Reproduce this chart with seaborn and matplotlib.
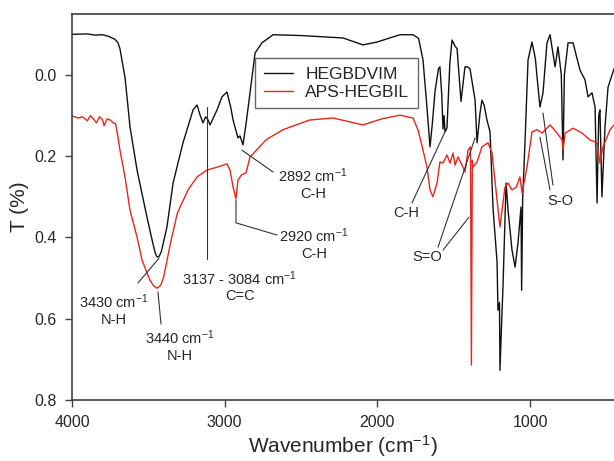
import pandas as pd
import matplotlib
matplotlib.use('Agg')
import matplotlib.pyplot as plt
import seaborn as sns

# --- Data ---
hegbdvim_wn = [4000, 3900, 3850, 3800, 3760, 3720, 3700, 3686, 3670, 3653, 3620, 3574, 3509, 3470,
               3455, 3443, 3430, 3415, 3378, 3338, 3273, 3207, 3181, 3160, 3142, 3125, 3110, 3096,
               3050, 3018, 2985, 2960, 2945, 2913, 2900, 2880, 2860, 2834, 2801, 2756, 2683, 2500,
               2225, 2094, 2002, 1852, 1767, 1730, 1701, 1675, 1655, 1640, 1622, 1600, 1590, 1578,
               1570, 1563, 1557, 1544, 1525, 1511, 1490, 1478, 1452, 1426, 1410, 1393, 1360, 1347,
               1328, 1315, 1300, 1282, 1262, 1242, 1216, 1210, 1200, 1197, 1185, 1177, 1157, 1144,
               1118, 1098, 1079, 1059, 1055, 1048, 1033, 1013, 987, 965, 954, 935, 915, 889, 869,
               836, 817, 795, 784, 775, 751, 718, 673, 640, 620, 594, 574, 561, 550, 542, 529, 509,
               489, 450]
hegbdvim_t = [-0.100, -0.101, -0.098, -0.099, -0.095, -0.088, -0.080, -0.065, -0.030, 0.005, 0.128,
              0.234, 0.350, 0.415, 0.438, 0.448, 0.447, 0.435, 0.374, 0.266, 0.167, 0.086, 0.074,
              0.100, 0.118, 0.103, 0.110, 0.123, 0.086, 0.054, 0.042, 0.080, 0.111, 0.155, 0.150,
              0.172, 0.120, 0.044, -0.054, -0.079, -0.099, -0.097, -0.091, -0.074, -0.081, -0.099,
              -0.099, -0.090, -0.037, 0.080, 0.177, 0.120, 0.040, -0.015, -0.020, 0.050, 0.133,
              0.100, 0.140, 0.130, -0.030, -0.086, -0.070, -0.065, 0.065, -0.020, -0.020, -0.015,
              0.062, 0.167, 0.095, 0.062, 0.075, 0.111, 0.140, 0.330, 0.460, 0.579, 0.560, 0.727,
              0.600, 0.520, 0.266, 0.333, 0.431, 0.473, 0.414, 0.325, 0.530, 0.300, 0.167, -0.037,
              -0.081, -0.040, 0.005, 0.079, 0.044, -0.079, -0.099, -0.020, -0.069, 0.000, 0.209,
              0.000, -0.079, -0.079, -0.012, 0.012, 0.054, 0.044, 0.079, 0.315, 0.100, 0.086, 0.300,
              0.128, 0.030, -0.015]

aps_wn = [4000, 3960, 3930, 3900, 3880, 3860, 3840, 3820, 3800, 3790, 3770, 3750, 3730, 3715, 3700,
          3686, 3653, 3620, 3574, 3541, 3490, 3465, 3443, 3420, 3400, 3355, 3310, 3240, 3181, 3116,
          3050, 2985, 2965, 2945, 2926, 2913, 2890, 2860, 2834, 2730, 2620, 2445, 2290, 2094, 1970,
          1852, 1767, 1734, 1701, 1675, 1655, 1636, 1609, 1590, 1570, 1544, 1524, 1504, 1491, 1472,
          1445, 1426, 1406, 1390, 1384, 1378, 1374, 1347, 1315, 1275, 1249, 1216, 1197, 1164, 1144,
          1118, 1090, 1066, 1052, 1020, 987, 954, 921, 869, 823, 790, 784, 770, 718, 660, 607, 561,
          542, 522, 476, 450]
aps_t = [0.101, 0.106, 0.103, 0.113, 0.100, 0.108, 0.118, 0.103, 0.110, 0.125, 0.108, 0.111, 0.118,
         0.120, 0.150, 0.185, 0.251, 0.333, 0.399, 0.456, 0.505, 0.519, 0.525, 0.518, 0.498, 0.414,
         0.340, 0.283, 0.251, 0.234, 0.227, 0.219, 0.234, 0.276, 0.305, 0.259, 0.246, 0.241, 0.202,
         0.160, 0.135, 0.111, 0.106, 0.123, 0.108, 0.099, 0.106, 0.135, 0.185, 0.227, 0.283, 0.300,
         0.266, 0.214, 0.217, 0.197, 0.217, 0.192, 0.222, 0.202, 0.222, 0.239, 0.185, 0.177, 0.714,
         0.210, 0.227, 0.214, 0.177, 0.167, 0.192, 0.308, 0.374, 0.276, 0.266, 0.283, 0.276, 0.251,
         0.291, 0.227, 0.140, 0.135, 0.143, 0.123, 0.143, 0.160, 0.185, 0.143, 0.131, 0.143, 0.160,
         0.167, 0.217, 0.177, 0.135, 0.123]

series_names = ['HEGBDVIM', 'APS-HEGBIL']

df = pd.concat([
    pd.DataFrame({'wn': hegbdvim_wn, 'T': hegbdvim_t, 'sample': series_names[0]}),
    pd.DataFrame({'wn': aps_wn, 'T': aps_t, 'sample': series_names[1]}),
])

# --- Style ---
sns.set_theme(style='ticks')
plt.rcParams['font.family'] = ['Liberation Sans', 'DejaVu Sans']
plt.rcParams['mathtext.fontset'] = 'custom'
plt.rcParams['mathtext.rm'] = 'Liberation Sans'
plt.rcParams['mathtext.default'] = 'regular'

fig = plt.figure(figsize=(6.14, 4.61), dpi=100)
ax = fig.add_axes([72 / 614, 61 / 461, 542 / 614, 386 / 461])

sns.lineplot(data=df, x='wn', y='T', hue='sample', hue_order=series_names,
             palette=['#111111', '#e8261c'], estimator=None, sort=False,
             linewidth=1.0, ax=ax)

ax.set_xlim(4000, 450)
ax.set_ylim(0.8, -0.15)
ax.set_xticks([4000, 3000, 2000, 1000])
ax.set_yticks([0.0, 0.2, 0.4, 0.6, 0.8])
ax.set_yticklabels(['0.0', '0.2', '0.4', '0.6', '0.8'])
ax.tick_params(direction='out', length=5, width=1, labelsize=11.5, color='#404040', pad=6)
for side in ['left', 'bottom', 'top']:
    ax.spines[side].set_color('#404040')
    ax.spines[side].set_linewidth(1.2)
ax.spines['right'].set_visible(False)

ax.set_xlabel('Wavenumber (cm$^{-1}$)', fontsize=15, labelpad=2)
ax.set_ylabel('T (%)', fontsize=15, labelpad=4)

# --- Peak labels and leader lines ---
leader_lines = [
    ([3568, 3430], [0.512, 0.451]),
    ([3437, 3417], [0.534, 0.613]),
    ([3116, 3116], [0.079, 0.453]),
    ([2887, 2683], [0.185, 0.239]),
    ([2926, 2926, 2657], [0.308, 0.364, 0.394]),
    ([1773, 1557], [0.315, 0.140]),
    ([1603, 1360], [0.424, 0.155]),
    ([1570, 1400], [0.431, 0.350]),
    ([915, 850], [0.094, 0.271]),
    ([935, 869], [0.153, 0.283]),
]
for xs, ys in leader_lines:
    ax.plot(xs, ys, color='#333333', linewidth=0.8)

peak_labels = [
    (3725, 0.577, '3430 cm$^{-1}$\nN-H'),
    (3293, 0.667, '3440 cm$^{-1}$\nN-H'),
    (2900, 0.520, '3137 - 3084 cm$^{-1}$\nC=C'),
    (2421, 0.268, '2892 cm$^{-1}$\nC-H'),
    (2415, 0.415, '2920 cm$^{-1}$\nC-H'),
    (1812, 0.340, 'C-H'),
    (1675, 0.448, 'S=O'),
    (804, 0.310, 'S-O'),
]
for x, y, label in peak_labels:
    ax.text(x, y, label, ha='center', va='center', fontsize=10.5, linespacing=1.15)

leg = ax.legend(loc='upper left', bbox_to_anchor=(0.3376, 0.886), borderaxespad=0,
                fontsize=12.5, frameon=True, fancybox=False, handlelength=1.7,
                handletextpad=0.7, labelspacing=0.15, borderpad=0.5, title=None)
leg.get_frame().set_edgecolor('#404040')
leg.get_frame().set_linewidth(1.0)

plt.savefig('out.png', dpi=100)
plt.close()
